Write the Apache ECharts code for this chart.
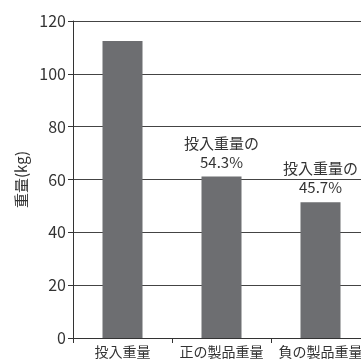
<!DOCTYPE html>
<html><head><meta charset="utf-8">
<script src="https://cdn.jsdelivr.net/npm/echarts@6/dist/echarts.min.js"></script>
<style>html,body{margin:0;padding:0;background:#fff}#c{width:361px;height:361px}</style>
</head><body><div id="c"></div>
<script>
const categories = ['投入重量', '正の製品重量', '負の製品重量'];
const weights = [112.4, 61.1, 51.4];
const barLabels = ['', '投入重量の\n54.3%', '投入重量の\n45.7%'];
const yTicks = [0, 20, 40, 60, 80, 100, 120];

const font = '"Noto Sans CJK JP", "Noto Sans", sans-serif';
const chart = echarts.init(document.getElementById('c'), null, {renderer: 'canvas'});
chart.setOption({
  animation: false,
  backgroundColor: '#fff',
  grid: {left: 73, top: 21, height: 317, width: 297, containLabel: false, outerBoundsMode: 'none'},
  xAxis: {
    type: 'category', data: categories,
    axisLine: {lineStyle: {color: '#333', width: 1}},
    axisTick: {show: true, length: 5, lineStyle: {color: '#333'}},
    axisLabel: {color: '#333', fontSize: 14, fontFamily: font, margin: 7, interval: 0, hideOverlap: false}
  },
  yAxis: {
    type: 'value', min: yTicks[0], max: yTicks[yTicks.length - 1], interval: 20,
    name: '重量(kg)', nameLocation: 'middle', nameGap: 42,
    nameTextStyle: {color: '#333', fontSize: 15, fontFamily: font},
    axisLine: {show: true, lineStyle: {color: '#333', width: 1}},
    axisTick: {show: true, length: 5, lineStyle: {color: '#333'}},
    axisLabel: {color: '#333', fontSize: 16, fontFamily: font, margin: 7},
    splitLine: {lineStyle: {color: '#444', width: 1}}
  },
  series: [{
    type: 'bar', data: weights, barWidth: 40,
    itemStyle: {color: '#6d6e71'},
    label: {
      show: true, position: 'top', distance: 5,
      color: '#333', fontSize: 15, fontFamily: font, lineHeight: 19,
      formatter: p => barLabels[p.dataIndex]
    }
  }]
});
</script></body></html>
